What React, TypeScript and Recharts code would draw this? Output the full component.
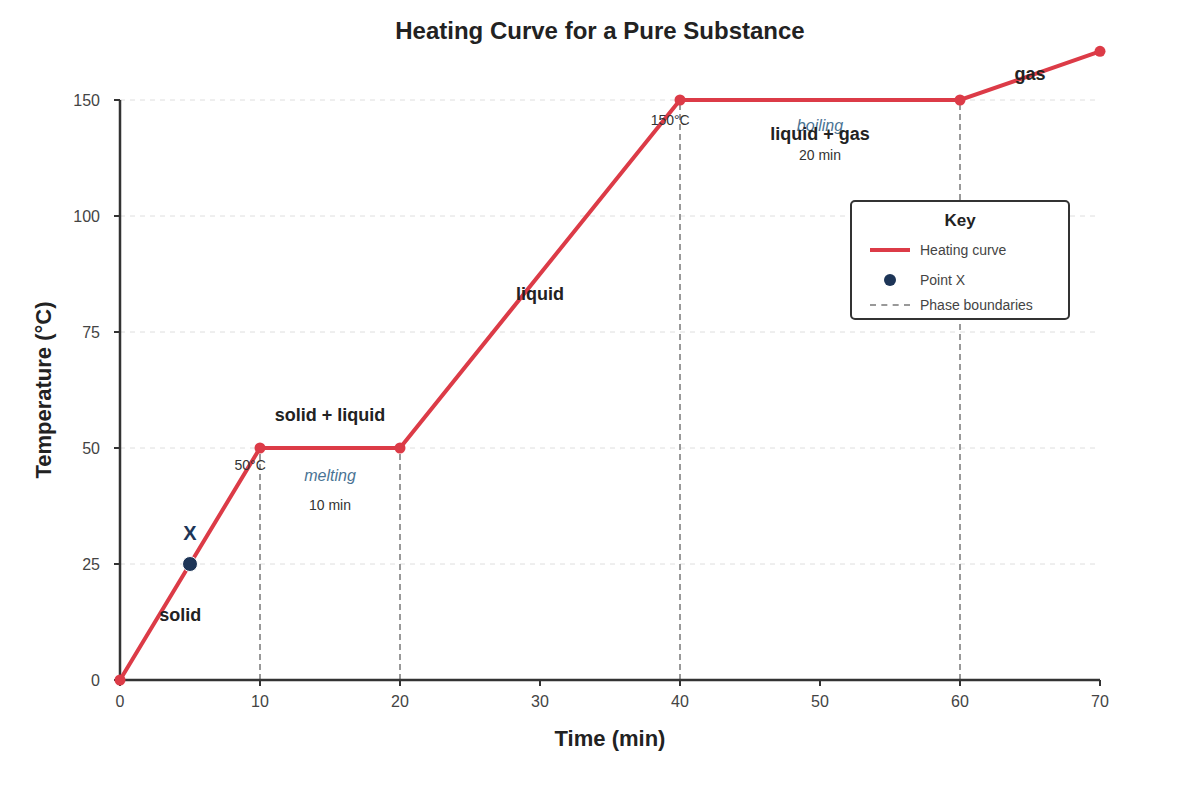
import React from "react";
import {
  ComposedChart,
  Line,
  Scatter,
  XAxis,
  YAxis,
  ReferenceLine,
  ReferenceDot,
} from "recharts";

// heating curve vertices (time in min, temperature in °C)
const times = [0, 10, 20, 40, 60, 70];
const temps = [0, 50, 50, 150, 150, 171];

const pointXTime = 5;
const pointXTemp = 25;

const xTicks = [0, 10, 20, 30, 40, 50, 60, 70];
// the temperature axis places these ticks evenly apart
const yTicks = [0, 25, 50, 75, 100, 150];

// phase boundary lines: [time, top temperature]
const boundaries: [number, number][] = [
  [10, 50],
  [20, 50],
  [40, 150],
  [60, 150],
];

type Note = {
  text: string;
  t: number;
  temp: number;
  kind: "phase" | "small" | "process" | "x";
};

const notes: Note[] = [
  { text: "solid", t: 4.3, temp: 14.2, kind: "phase" },
  { text: "X", t: 5, temp: 31.7, kind: "x" },
  { text: "50°C", t: 9.3, temp: 46.3, kind: "small" },
  { text: "solid + liquid", t: 15, temp: 57.3, kind: "phase" },
  { text: "melting", t: 15, temp: 44.2, kind: "process" },
  { text: "10 min", t: 15, temp: 37.7, kind: "small" },
  { text: "liquid", t: 30, temp: 83.2, kind: "phase" },
  { text: "150°C", t: 39.3, temp: 141.4, kind: "small" },
  { text: "boiling", t: 50, temp: 139.2, kind: "process" },
  { text: "liquid + gas", t: 50, temp: 135.3, kind: "phase" },
  { text: "20 min", t: 50, temp: 126.3, kind: "small" },
  { text: "gas", t: 65, temp: 161.2, kind: "phase" },
];

const RED = "#dc3b47";
const NAVY = "#1d3557";
const FONT = "'Liberation Sans', Arial, sans-serif";

const noteStyle: Record<Note["kind"], React.CSSProperties> = {
  phase: { fontSize: 18, fontWeight: 700, fill: "#222" },
  small: { fontSize: 14, fill: "#333" },
  process: { fontSize: 16, fontStyle: "italic", fill: "#4a7394" },
  x: { fontSize: 20, fontWeight: 700, fill: NAVY },
};

// piecewise axis: each tick interval gets the same height
function tempPos(v: number): number {
  for (let i = 1; i < yTicks.length; i++) {
    if (v <= yTicks[i] || i === yTicks.length - 1) {
      const a = yTicks[i - 1];
      const b = yTicks[i];
      return i - 1 + (v - a) / (b - a);
    }
  }
  return 0;
}

const Y_TOP = 5.5;

const data = times.map((t, i) => ({ t, pos: tempPos(temps[i]), temp: temps[i] }));
const pointX = [{ t: pointXTime, pos: tempPos(pointXTemp) }];

function YTitle(props: any) {
  const { viewBox } = props;
  const cx = 43;
  const mid = tempPos(yTicks[yTicks.length - 1]) / 2;
  const cy = viewBox.y + viewBox.height * (1 - mid / Y_TOP);
  return (
    <text
      x={cx}
      y={cy}
      transform={`rotate(-90 ${cx} ${cy})`}
      textAnchor="middle"
      dominantBaseline="central"
      style={{ fontSize: 22, fontWeight: 700, fill: "#222" }}
    >
      Temperature (°C)
    </text>
  );
}

export default function App() {
  return (
    <div
      style={{
        position: "absolute",
        left: 0,
        top: 0,
        width: 1200,
        height: 800,
        background: "#fff",
        fontFamily: FONT,
      }}
    >
      <div
        style={{
          position: "absolute",
          top: 17,
          left: 0,
          width: 1200,
          textAlign: "center",
          fontSize: 24,
          fontWeight: 700,
          color: "#222",
        }}
      >
        Heating Curve for a Pure Substance
      </div>

      <ComposedChart
        width={1200}
        height={800}
        data={data}
        margin={{ top: 42, right: 100, bottom: 40, left: 40 }}
        style={{ fontFamily: FONT }}
      >
        <XAxis
          type="number"
          dataKey="t"
          domain={[0, 70]}
          ticks={xTicks}
          height={80}
          axisLine={{ stroke: "#333", strokeWidth: 2.5 }}
          tickLine={{ stroke: "#333", strokeWidth: 2 }}
          tickSize={6}
          tickMargin={10}
          tick={{ fontSize: 16, fill: "#444" }}
          label={{
            value: "Time (min)",
            position: "insideBottom",
            offset: 14,
            style: { fontSize: 22, fontWeight: 700, fill: "#222" },
          }}
        />
        <YAxis
          type="number"
          dataKey="pos"
          domain={[0, Y_TOP]}
          ticks={yTicks.map(tempPos)}
          tickFormatter={(p: number) => String(yTicks[Math.round(p)])}
          width={80}
          axisLine={false}
          tickLine={{ stroke: "#333", strokeWidth: 2 }}
          tickSize={6}
          tickMargin={14}
          tick={{ fontSize: 16, fill: "#444" }}
          label={<YTitle />}
        />
        {yTicks.slice(1).map((v) => (
          <ReferenceLine
            key={"g" + v}
            y={tempPos(v)}
            stroke="#dedede"
            strokeWidth={1}
            strokeDasharray="5 5"
          />
        ))}
        <ReferenceLine
          segment={[
            { x: 0, y: 0 },
            { x: 0, y: tempPos(yTicks[yTicks.length - 1]) },
          ]}
          stroke="#333"
          strokeWidth={2.5}
        />
        {boundaries.map(([t, top]) => (
          <ReferenceLine
            key={t}
            segment={[
              { x: t, y: 0 },
              { x: t, y: tempPos(top) },
            ]}
            stroke="#999"
            strokeWidth={2}
            strokeDasharray="6 4"
          />
        ))}
        <Line
          type="linear"
          dataKey="pos"
          stroke={RED}
          strokeWidth={4}
          dot={{ r: 5.5, fill: RED, stroke: "none" }}
          activeDot={false}
          isAnimationActive={false}
        />
        <Scatter
          data={pointX}
          dataKey="pos"
          fill={NAVY}
          isAnimationActive={false}
          shape={(p: any) => (
            <circle cx={p.cx} cy={p.cy} r={7.5} fill={NAVY} stroke="#fff" strokeWidth={1} />
          )}
        />
        {notes.map((n) => (
          <ReferenceDot
            key={n.text}
            x={n.t}
            y={tempPos(n.temp)}
            r={0}
            stroke="none"
            fill="none"
            label={{
              value: n.text,
              position: "center",
              style: { ...noteStyle[n.kind], fontFamily: FONT },
            }}
          />
        ))}
      </ComposedChart>

      <div
        style={{
          position: "absolute",
          left: 850,
          top: 200,
          width: 216,
          height: 116,
          border: "2px solid #333",
          borderRadius: 5,
          background: "#fff",
          color: "#444",
          fontSize: 14,
        }}
      >
        <div
          style={{
            position: "absolute",
            top: 9,
            width: "100%",
            textAlign: "center",
            fontWeight: 700,
            fontSize: 17,
            color: "#222",
          }}
        >
          Key
        </div>
        <div style={{ position: "absolute", left: 18, top: 46, width: 40, height: 4, background: RED }} />
        <div style={{ position: "absolute", left: 68, top: 40 }}>Heating curve</div>
        <div
          style={{
            position: "absolute",
            left: 32,
            top: 72,
            width: 12,
            height: 12,
            borderRadius: 6,
            background: NAVY,
          }}
        />
        <div style={{ position: "absolute", left: 68, top: 70 }}>Point X</div>
        <div
          style={{
            position: "absolute",
            left: 18,
            top: 102,
            width: 40,
            borderTop: "2px dashed #999",
          }}
        />
        <div style={{ position: "absolute", left: 68, top: 95 }}>Phase boundaries</div>
      </div>
    </div>
  );
}
